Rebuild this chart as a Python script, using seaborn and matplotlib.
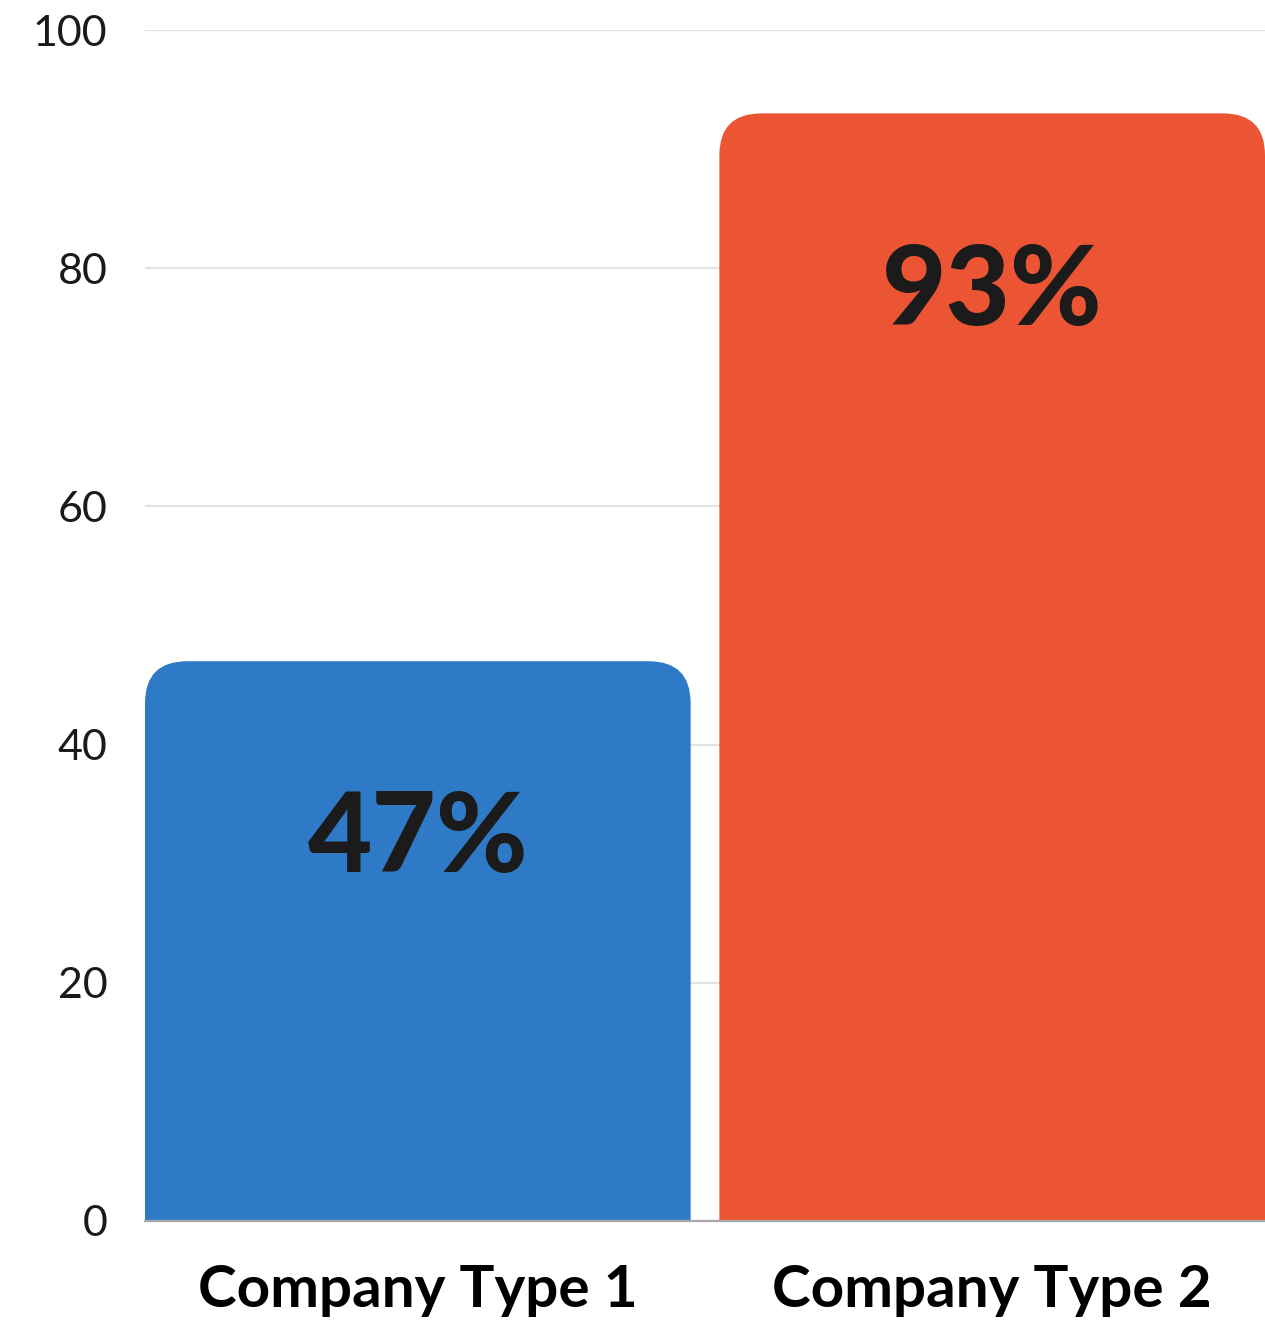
import matplotlib
matplotlib.use("Agg")
import matplotlib.pyplot as plt
from matplotlib.patches import FancyBboxPatch
from matplotlib.transforms import IdentityTransform
import seaborn as sns
import pandas as pd

# Chart data
categories = ["Company Type 1", "Company Type 2"]
values = [47, 93]
value_labels = ["47%", "93%"]
bar_colors = ["#2F7AC6", "#EB5533"]
y_ticks = [0, 20, 40, 60, 80, 100]

sns.set_theme(style="white")
plt.rcParams["font.family"] = ["Lato", "DejaVu Sans"]

W, H, DPI = 1265, 1320, 100
fig = plt.figure(figsize=(W / DPI, H / DPI), dpi=DPI)
ax = fig.add_axes([145 / W, 99 / H, (W - 145) / W, (1221 - 30) / H])

df = pd.DataFrame({"category": categories, "value": values})
sns.barplot(data=df, x="category", y="value", hue="category",
            palette=bar_colors, width=0.95, legend=False, ax=ax,
            saturation=1, edgecolor="none", linewidth=0, zorder=2)

ax.set_xlim(-0.475, 1.475)
ax.set_ylim(0, 100)
ax.set_yticks(y_ticks)
ax.set_yticklabels([str(t) for t in y_ticks], fontsize=31, color="#1a1a1a")
ax.tick_params(axis="y", length=0, pad=27)
ax.tick_params(axis="x", length=0, pad=31)
for lbl in ax.get_xticklabels():
    lbl.set_fontsize(42)
    lbl.set_fontweight("bold")
    lbl.set_color("#000000")
ax.set_xlabel("")
ax.set_ylabel("")

# light horizontal gridlines
ax.yaxis.grid(True, color="#e2e2e2", linewidth=1.6, zorder=0)
ax.set_axisbelow(True)
for side in ["top", "right", "left"]:
    ax.spines[side].set_visible(False)
ax.spines["bottom"].set_color("#a8a8a8")
ax.spines["bottom"].set_linewidth(1.6)
ax.spines["bottom"].set_zorder(3)

# rounded top corners: clip each bar to a rounded box in pixel space
radius = 42
fig.canvas.draw()
for patch in ax.patches:
    x0, y0 = patch.get_x(), patch.get_y()
    x1, y1 = x0 + patch.get_width(), y0 + patch.get_height()
    (px0, py0), (px1, py1) = ax.transData.transform([(x0, y0), (x1, y1)])
    clip = FancyBboxPatch((px0, py0 - 200), px1 - px0, (py1 - py0) + 200,
                          boxstyle=f"round,pad=0,rounding_size={radius}",
                          transform=IdentityTransform())
    patch.set_clip_path(clip)

# value labels inside the bars
for i, (v, lab) in enumerate(zip(values, value_labels)):
    ax.text(i, v - 15, lab, ha="center", va="center", fontsize=80,
            fontweight="black", color="#1b1b1b", zorder=5)

fig.savefig("out.png", dpi=DPI)
